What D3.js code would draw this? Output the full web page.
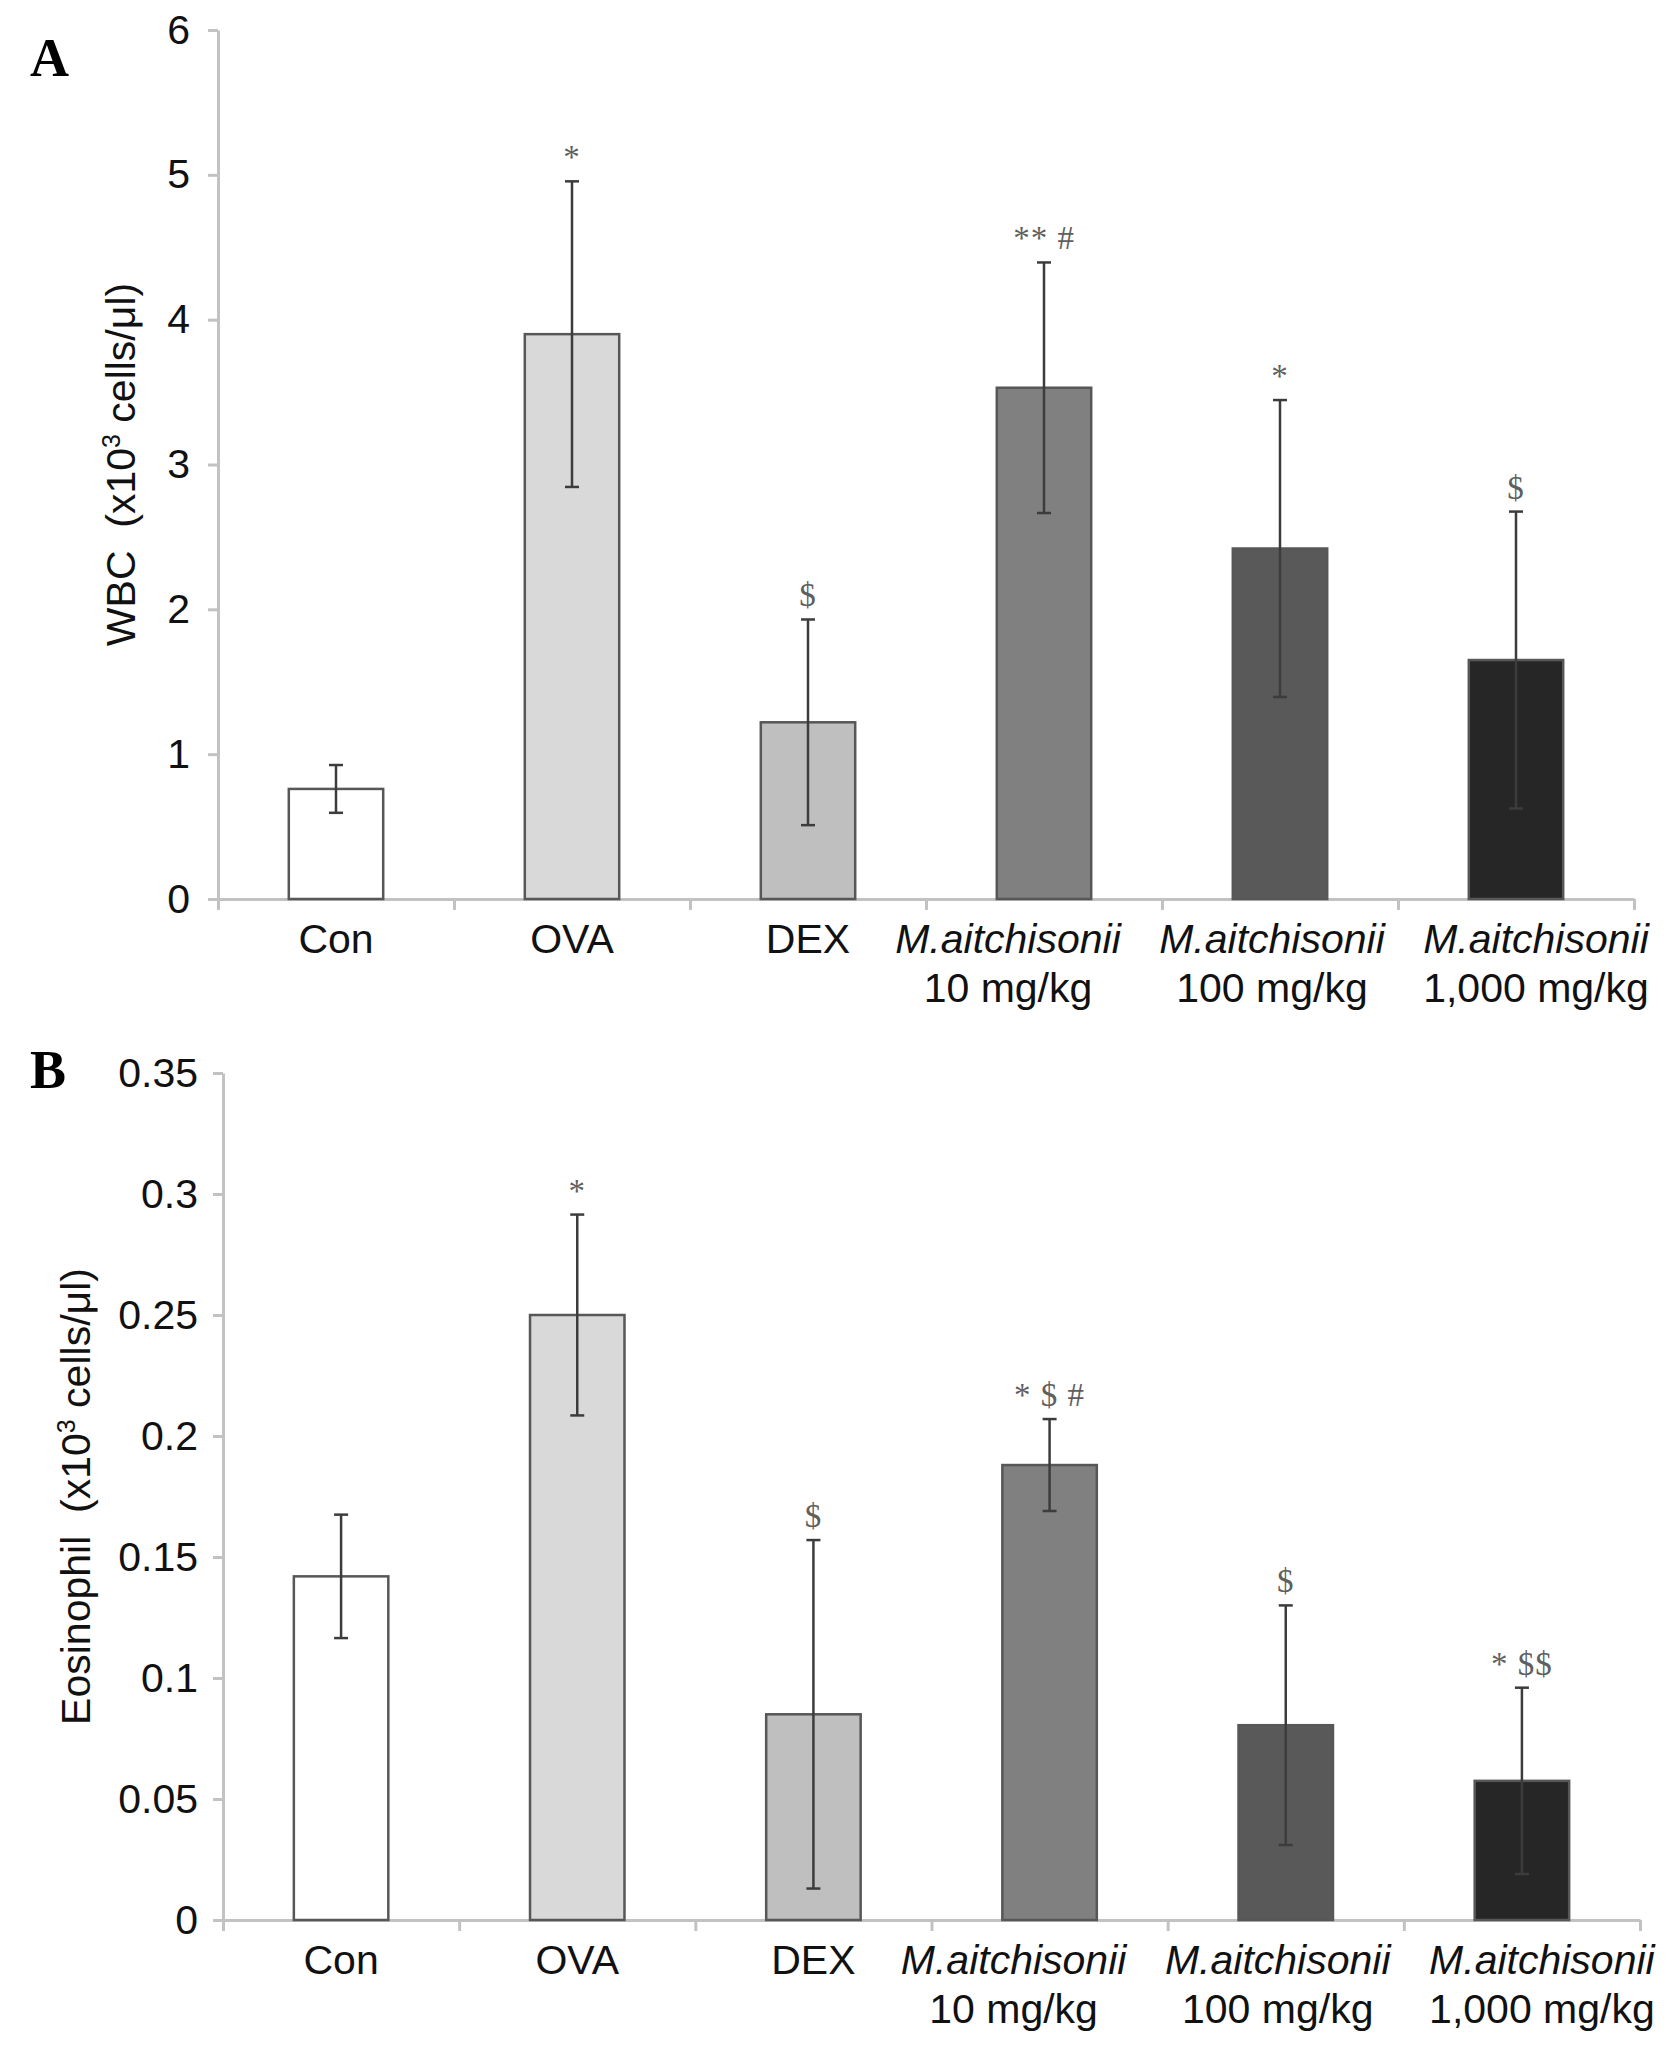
<!DOCTYPE html>
<html>
<head>
<meta charset="utf-8">
<script src="https://cdn.jsdelivr.net/npm/d3@7"></script>
<style>
  body { margin: 0; background: #fff; }
  svg { display: block; font-family: "Liberation Sans", Arial, sans-serif; }
</style>
</head>
<body>
<div id="chart"></div>
<script>
// groups and their x labels (two lines)
const groups = ["Con", "OVA", "DEX", "M10", "M100", "M1000"];
const labelTop = ["Con", "OVA", "DEX", "M.aitchisonii", "M.aitchisonii", "M.aitchisonii"];
const labelBottom = ["", "", "", "10 mg/kg", "100 mg/kg", "1,000 mg/kg"];
const fills = ["#ffffff", "#d9d9d9", "#bfbfbf", "#808080", "#595959", "#262626"];

// panel A: WBC
const wbcMean = [0.76, 3.90, 1.22, 3.53, 2.42, 1.65];
const wbcSd = [0.165, 1.055, 0.71, 0.865, 1.025, 1.025];
const wbcMarks = ["", "*", "$", "** #", "*", "$"];
const wbcTicks = [0, 1, 2, 3, 4, 5, 6];

// panel B: eosinophil
const eosMean = [0.142, 0.250, 0.085, 0.188, 0.0805, 0.0575];
const eosSd = [0.0255, 0.0415, 0.072, 0.019, 0.0495, 0.0385];
const eosMarks = ["", "*", "$", "* $ #", "$", "* $$"];
const eosTicks = [0, 0.05, 0.1, 0.15, 0.2, 0.25, 0.3, 0.35];

const W = 1680, H = 2048;
const labelShift = [0, 0, 0, -36, -8, 20]; // long labels are nudged like in the original

const svg = d3.select("#chart").append("svg")
  .attr("width", W)
  .attr("height", H);

function panel(p) {
  const g = svg.append("g");
  const y = d3.scaleLinear().domain([0, d3.max(p.ticks)]).range([p.bottom, p.top]);
  const x = d3.scaleBand().domain(groups).range([p.left, p.right])
    .paddingInner(0.6).paddingOuter(0.3);
  const xEdges = d3.scaleLinear().domain([0, groups.length]).range([p.left, p.right]);

  // x axis with ticks at group boundaries
  g.append("g")
    .attr("class", "axis")
    .attr("transform", `translate(0,${p.bottom})`)
    .call(d3.axisBottom(xEdges).tickValues(d3.range(groups.length + 1))
      .tickFormat("").tickSize(11).tickSizeOuter(0));

  // y axis
  g.append("g")
    .attr("class", "axis")
    .attr("transform", `translate(${p.left},0)`)
    .call(d3.axisLeft(y).tickValues(p.ticks).tickFormat(p.fmt)
      .tickSize(10).tickPadding(p.pad).tickSizeOuter(0));

  g.selectAll(".axis path, .axis line")
    .attr("stroke", "#c2c2c2")
    .attr("stroke-width", 3);
  g.selectAll(".axis text")
    .attr("fill", "#111")
    .style("font-size", "41px");

  const cx = i => x(groups[i]) + x.bandwidth() / 2;

  // bars
  g.selectAll("rect.bar")
    .data(p.mean)
    .join("rect")
    .attr("class", "bar")
    .attr("x", (d, i) => x(groups[i]))
    .attr("y", d => y(d))
    .attr("width", x.bandwidth())
    .attr("height", d => y(0) - y(d))
    .attr("fill", (d, i) => fills[i])
    .attr("stroke", "#575757")
    .attr("stroke-width", 2.5);

  // error bars
  const cap = 7;
  p.mean.forEach((m, i) => {
    const lo = y(m - p.sd[i]), hi = y(m + p.sd[i]), c = cx(i);
    const eb = g.append("g").attr("stroke", "#3c3c3c").attr("stroke-width", 2.5);
    eb.append("line").attr("x1", c).attr("x2", c).attr("y1", lo).attr("y2", hi);
    eb.append("line").attr("x1", c - cap).attr("x2", c + cap).attr("y1", lo).attr("y2", lo);
    eb.append("line").attr("x1", c - cap).attr("x2", c + cap).attr("y1", hi).attr("y2", hi);
  });

  // significance marks
  g.selectAll("text.mark")
    .data(p.marks)
    .join("text")
    .attr("class", "mark")
    .attr("x", (d, i) => cx(i))
    .attr("y", (d, i) => y(p.mean[i] + p.sd[i]) - 13)
    .attr("text-anchor", "middle")
    .attr("fill", "#5f5f5f")
    .style("font-family", "'Liberation Serif', 'Times New Roman', serif")
    .style("font-size", "33px")
    .style("letter-spacing", "1px")
    .text(d => d);

  // x labels
  groups.forEach((grp, i) => {
    const lx = cx(i) + labelShift[i];
    g.append("text")
      .attr("x", lx)
      .attr("y", p.bottom + 54)
      .attr("text-anchor", "middle")
      .attr("fill", "#111")
      .style("font-size", "41px")
      .style("font-style", labelBottom[i] ? "italic" : "normal")
      .text(labelTop[i]);
    if (labelBottom[i]) {
      g.append("text")
        .attr("x", lx)
        .attr("y", p.bottom + 103)
        .attr("text-anchor", "middle")
        .attr("fill", "#111")
        .style("font-size", "41px")
        .text(labelBottom[i]);
    }
  });

  // y label (baseline at ylabelX after rotation)
  const yl = g.append("text")
    .attr("transform", `translate(${p.ylabelX},${(p.top + p.bottom) / 2}) rotate(-90)`)
    .attr("text-anchor", "middle")
    .attr("fill", "#111")
    .style("font-size", "41px");
  yl.append("tspan").text(p.ylabel + "\u00a0\u00a0(x10");
  yl.append("tspan").attr("dy", -15).style("font-size", "25px").text("3");
  yl.append("tspan").attr("dy", 15).text("\u00a0cells/\u03bcl)");

  // panel letter
  g.append("text")
    .attr("x", 30)
    .attr("y", p.letterY)
    .attr("fill", "#000")
    .style("font-family", "'Liberation Serif', 'Times New Roman', serif")
    .style("font-weight", "bold")
    .style("font-size", "54px")
    .text(p.letter);
}

panel({
  letter: "A", letterY: 76,
  top: 30, bottom: 899, left: 218, right: 1634,
  ticks: wbcTicks, fmt: d3.format("d"), pad: 18,
  mean: wbcMean, sd: wbcSd, marks: wbcMarks,
  ylabel: "WBC", ylabelX: 135
});

panel({
  letter: "B", letterY: 1088,
  top: 1073, bottom: 1920, left: 223, right: 1640,
  ticks: eosTicks, fmt: d => String(+d.toFixed(2)), pad: 15,
  mean: eosMean, sd: eosSd, marks: eosMarks,
  ylabel: "Eosinophil", ylabelX: 90
});
</script>
</body>
</html>
